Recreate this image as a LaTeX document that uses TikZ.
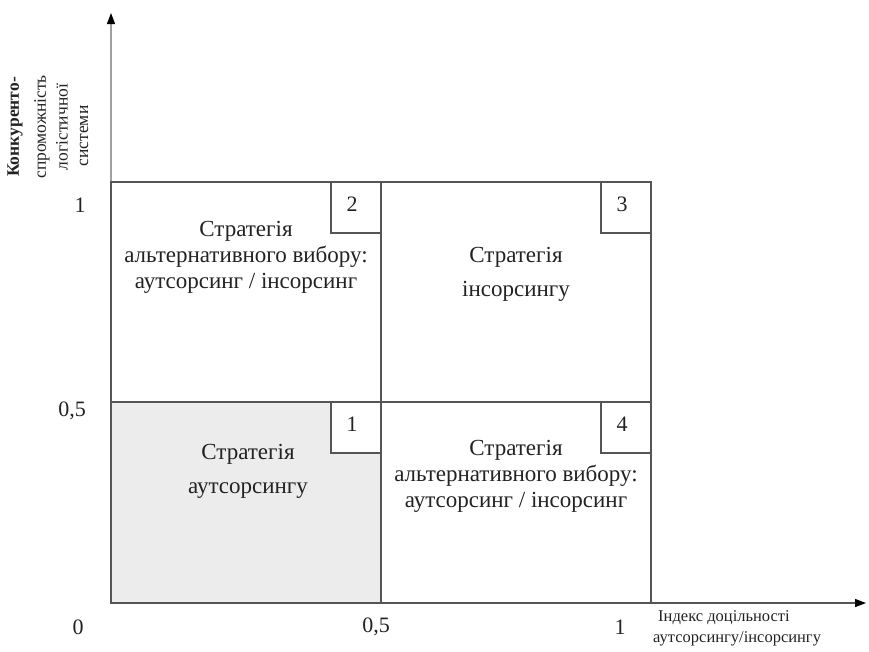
\documentclass[tikz,border=0pt]{standalone}
\usepackage{fontspec}
\setmainfont{Liberation Serif}
\usetikzlibrary{arrows.meta}
\definecolor{edge}{HTML}{555555}
\definecolor{axisgray}{HTML}{A0A0A0}
\definecolor{cellfill}{HTML}{ECECEC}
\definecolor{ink}{HTML}{222222}
\begin{document}
\begin{tikzpicture}[x=1pt,y=-1pt,
  font=\fontsize{23}{26}\selectfont, text=ink,
  quad/.style={draw=edge, line width=1.3pt, minimum width=270pt, inner sep=0pt},
  numbox/.style={draw=edge, fill=white, line width=1.3pt, minimum width=50pt,
    minimum height=51pt, anchor=north east, inner sep=0pt},
  digit/.style={inner sep=0pt, font=\fontsize{22}{24}\selectfont},
  qtext/.style={align=center, inner sep=0pt},
  tick/.style={inner sep=0pt, font=\fontsize{22}{24}\selectfont},
  ylab/.style={rotate=90, inner sep=0pt, font=\fontsize{17.5}{19}\selectfont},
  axisline/.style={line width=1.3pt},
  tip/.style={-{Triangle[length=11pt,width=8pt,color=black,fill=black]}}
]
\useasboundingbox (0,0) rectangle (869,651);
% axes
\coordinate (O) at (111,603);
\coordinate (ytip) at (111,13);
\coordinate (xtip) at (866,603);
\draw[axisline, draw=axisgray, tip] (O) -- (ytip);
% quadrants
\node[quad, minimum height=220pt] (q2) at (246,292) {};
\node[quad, minimum height=220pt] (q3) at (516,292) {};
\node[quad, minimum height=201pt, fill=cellfill] (q1) at (246,502.5) {};
\node[quad, minimum height=201pt] (q4) at (516,502.5) {};
\draw[axisline, draw=edge, tip] (O) -- (xtip);
% number boxes
\node[numbox] (n2) at (q2.north east) {};
\node[numbox] (n3) at (q3.north east) {};
\node[numbox] (n1) at (q1.north east) {};
\node[numbox] (n4) at (q4.north east) {};
\node[digit] (d2) at ([xshift=-4pt,yshift=3pt]n2.center) {2};
\node[digit] (d3) at ([xshift=-4pt,yshift=3pt]n3.center) {3};
\node[digit] (d1) at ([xshift=-4pt,yshift=3pt]n1.center) {1};
\node[digit] (d4) at ([xshift=-4pt,yshift=3pt]n4.center) {4};
% quadrant texts
\node[qtext] (t2) at (246,257) {Стратегія\\альтернативного вибору:\\аутсорсинг / інсорсинг};
\node[qtext] (t3) at (516,274) {Стратегія\\[8pt]інсорсингу};
\node[qtext] (t1) at (248,471) {Стратегія\\[8pt]аутсорсингу};
\node[qtext] (t4) at (516,476) {Стратегія\\альтернативного вибору:\\аутсорсинг / інсорсинг};
% tick labels
\node[tick] (y1) at (80,205) {1};
\node[tick] (y05) at (72,411) {0,5};
\node[tick] (x0) at (78,627) {0};
\node[tick] (x05) at (376,627) {0,5};
\node[tick] (x1) at (620,627) {1};
% axis titles
\node[ylab, font=\fontsize{17.5}{19}\selectfont\bfseries] (yl1) at (15,127) {Конкуренто-};
\node[ylab] (yl2) at (42,127) {спроможність};
\node[ylab] (yl3) at (62,127) {логістичної};
\node[ylab] (yl4) at (84,136) {системи};
\node[align=left, anchor=north west, inner sep=0pt, font=\fontsize{16.5}{21}\selectfont] (xl) at (653,610)
  {\hspace{5pt}Індекс доцільності\\аутсорсингу/інсорсингу};
\end{tikzpicture}
\end{document}
